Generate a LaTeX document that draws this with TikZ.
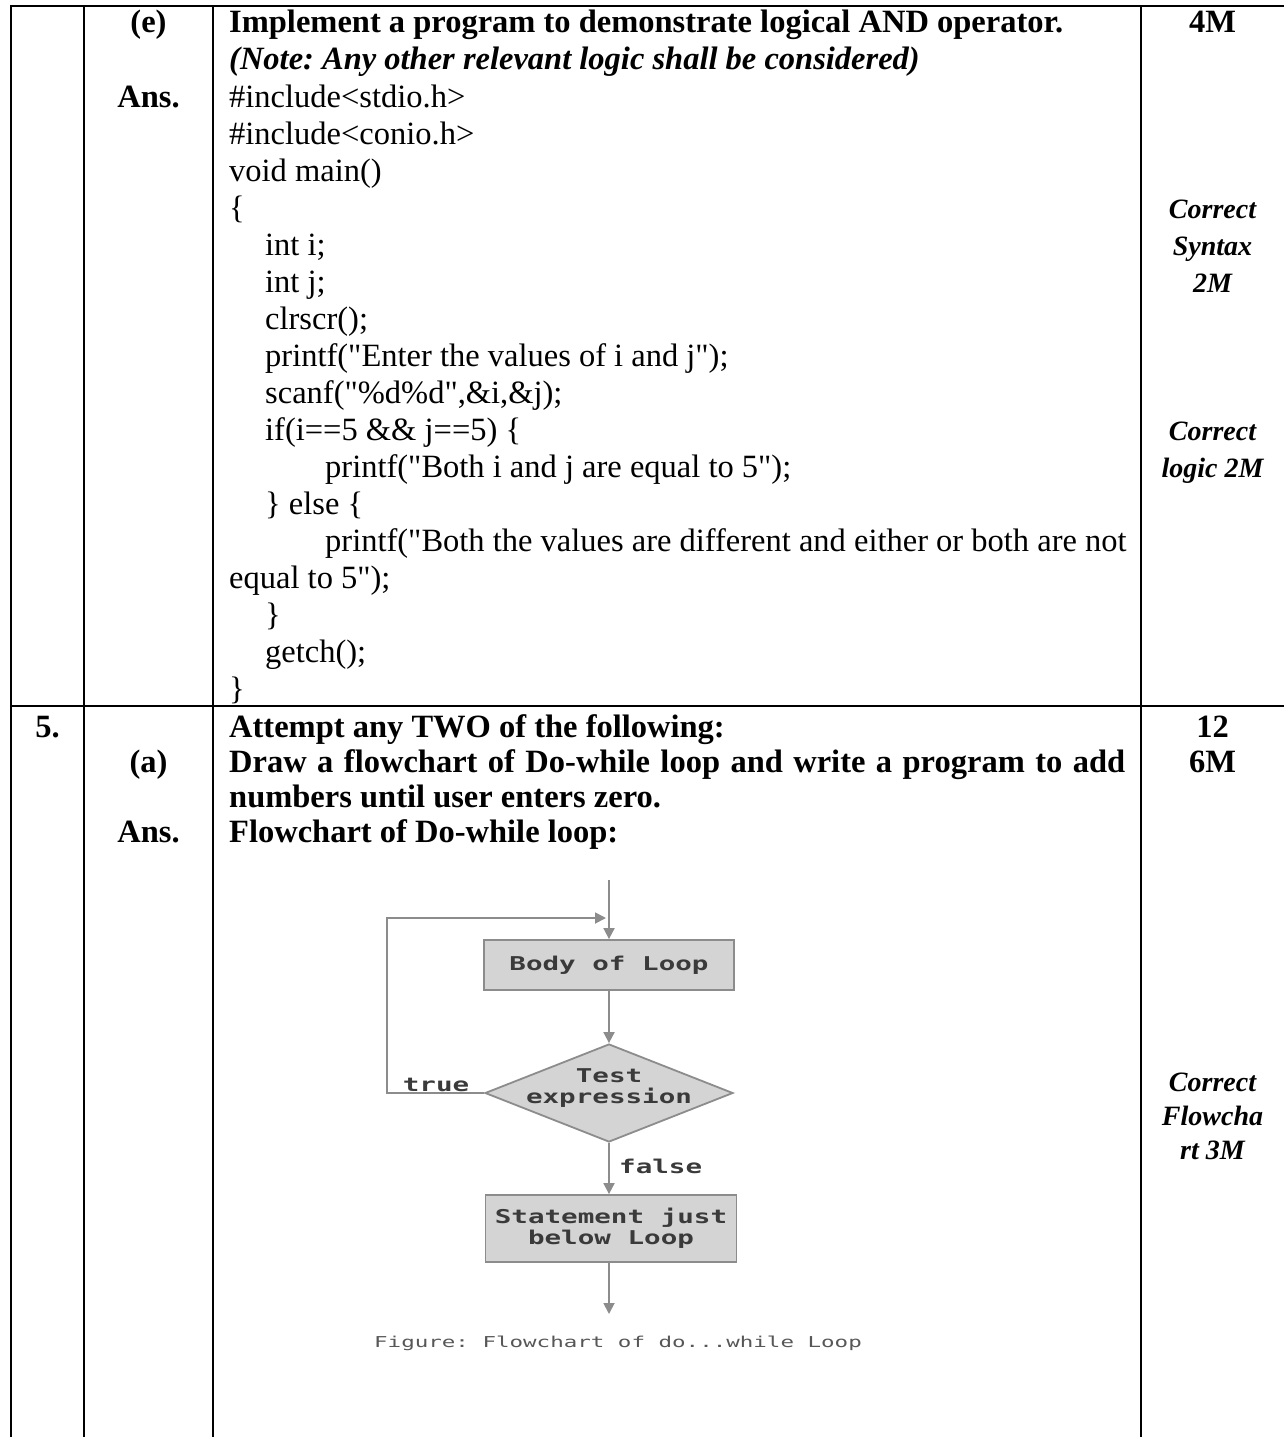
\documentclass[tikz,border=0pt]{standalone}
\usepackage{fontspec}
\setmainfont{Liberation Serif}
\newfontfamily\docfont{Liberation Serif}
\newfontfamily\fcfont[FakeStretch=1.45]{DejaVu Sans Mono}
\newfontfamily\capfont[FakeStretch=1.5]{DejaVu Sans Mono}
\usetikzlibrary{arrows.meta,shapes.geometric}
\definecolor{fcgray}{HTML}{8C8C8C}
\definecolor{fcfillc}{HTML}{D4D4D4}
\definecolor{fctxt}{HTML}{3A3A3A}
\frenchspacing
\tikzset{
  grid/.style={line width=2.2pt, black},
  txt/.style={anchor=base west, inner sep=0pt, font=\docfont\fontsize{32.5}{37}\selectfont},
  btxt/.style={txt, font=\docfont\fontsize{32.5}{37}\selectfont\bfseries},
  bitxt/.style={txt, font=\docfont\fontsize{32.5}{37}\selectfont\bfseries\itshape},
  ctr/.style={anchor=base, inner sep=0pt, font=\docfont\fontsize{32.5}{37}\selectfont\bfseries},
  ctri/.style={anchor=base, inner sep=0pt, font=\docfont\fontsize{28}{34}\selectfont\bfseries\itshape},
  fcbox/.style={rectangle, draw=fcgray, fill=fcfillc, line width=1.8pt, inner sep=0pt, text=fctxt, font=\fcfont\fontsize{19}{21}\selectfont\bfseries, align=center},
  fcdia/.style={diamond, draw=fcgray, fill=fcfillc, line width=1.8pt, inner sep=0pt},
  fclab/.style={inner sep=0pt, text=fctxt, font=\fcfont\fontsize{19}{21}\selectfont\bfseries, align=center},
  fcarrow/.style={draw=fcgray, line width=1.8pt, -{Triangle[length=11pt,width=11pt]}},
}
\begin{document}
\begin{tikzpicture}[x=1pt,y=-1pt]
\useasboundingbox (0,0) rectangle (1284,1437);
\fill[white] (0,0) rectangle (1284,1437);
% table grid
\draw[grid] (11,6) -- (1284,6);
\draw[grid] (11,706) -- (1284,706);
\draw[grid] (11,5) -- (11,1437);
\draw[grid] (84,5) -- (84,1437);
\draw[grid] (213,5) -- (213,1437);
\draw[grid] (1141,5) -- (1141,1437);
% row 1, column 2
\node[ctr] (e) at (148.5,33) {(e)};
\node[ctr] (ans1) at (148.5,107) {Ans.};
% row 1, column 3
\node[btxt] (l0) at (229,33) {Implement a program to demonstrate logical AND operator.};
\node[bitxt] (l1) at (229,70) {(Note: Any other relevant logic shall be considered)};
\node[txt] (l2) at (229,107) {\#include<stdio.h>};
\node[txt] (l3) at (229,144) {\#include<conio.h>};
\node[txt] (l4) at (229,181) {void main()};
\node[txt] (l5) at (229,218) {\{};
\node[txt] (l6) at (265,255) {int i;};
\node[txt] (l7) at (265,292) {int j;};
\node[txt] (l8) at (265,329) {clrscr();};
\node[txt] (l9) at (265,366) {printf("Enter the values of i and j");};
\node[txt] (l10) at (265,403) {scanf("\%d\%d",\&i,\&j);};
\node[txt] (l11) at (265,440) {if(i==5 \&\& j==5) \{};
\node[txt] (l12) at (325,477) {printf("Both i and j are equal to 5");};
\node[txt] (l13) at (265,514) {\} else \{};
\node[txt] (l14) at (325,551) {printf("Both the values are different and either or both are not};
\node[txt] (l15) at (229,588) {equal to 5");};
\node[txt] (l16) at (265,625) {\}};
\node[txt] (l17) at (265,662) {getch();};
\node[txt] (l18) at (229,699) {\}};
% row 1, column 4
\node[ctr] (m4) at (1212.5,33) {4M};
\node[ctri] (cs1) at (1212.5,218) {Correct};
\node[ctri] (cs2) at (1212.5,255) {Syntax};
\node[ctri] (cs3) at (1212.5,292) {2M};
\node[ctri] (cl1) at (1212.5,440) {Correct};
\node[ctri] (cl2) at (1212.5,477) {logic 2M};
% row 2
\node[ctr] (five) at (47.5,737) {5.};
\node[ctr] (a) at (148.5,772) {(a)};
\node[ctr] (ans2) at (148.5,842) {Ans.};
\node[btxt] (r0) at (229,737) {Attempt any TWO of the following:};
\node[btxt] (r1) at (229,772) {\makebox[896pt][s]{Draw a flowchart of Do-while loop and write a program to add}};
\node[btxt] (r2) at (229,807) {numbers until user enters zero.};
\node[btxt] (r3) at (229,842) {Flowchart of Do-while loop:};
\node[ctr] (m12) at (1212.5,737) {12};
\node[ctr] (m6) at (1212.5,772) {6M};
\node[ctri] (cf1) at (1212.5,1091) {Correct};
\node[ctri] (cf2) at (1212.5,1125) {Flowcha};
\node[ctri] (cf3) at (1212.5,1159) {rt 3M};
% flowchart
\node[fcbox, minimum width=250pt, minimum height=50pt] (body) at (609,965) {Body of Loop};
\node[fcdia, minimum width=248pt, minimum height=98pt] (test) at (609,1093) {};
\node[fclab] (testlab) at (609,1088) {Test\\expression};
\node[fcbox, minimum width=251pt, minimum height=67pt] (stmt) at (611,1228.5) {Statement just\\below Loop};
\coordinate (entry) at (609,880);
\coordinate (lc1) at (387,1093);
\coordinate (lc2) at (387,918);
\coordinate (lc3) at (606,918);
\coordinate (exit) at (609,1314);
\draw[fcarrow] (entry) -- (body.north);
\draw[fcarrow] (body.south) -- (test.north);
\draw[fcarrow] (test.west) -- (lc1) -- (lc2) -- (lc3);
\draw[fcarrow] (test.south) -- (test.south |- stmt.north);
\draw[fcarrow] (test.south |- stmt.south) -- (exit);
\node[fclab, anchor=base] (truelab) at (436,1091) {true};
\node[fclab, anchor=base west] (falselab) at (619,1173) {false};
\node[inner sep=0pt, text=fctxt!85, font=\capfont\fontsize{15}{17}\selectfont] (cap) at (618,1343) {Figure: Flowchart of do...while Loop};
\end{tikzpicture}
\end{document}
